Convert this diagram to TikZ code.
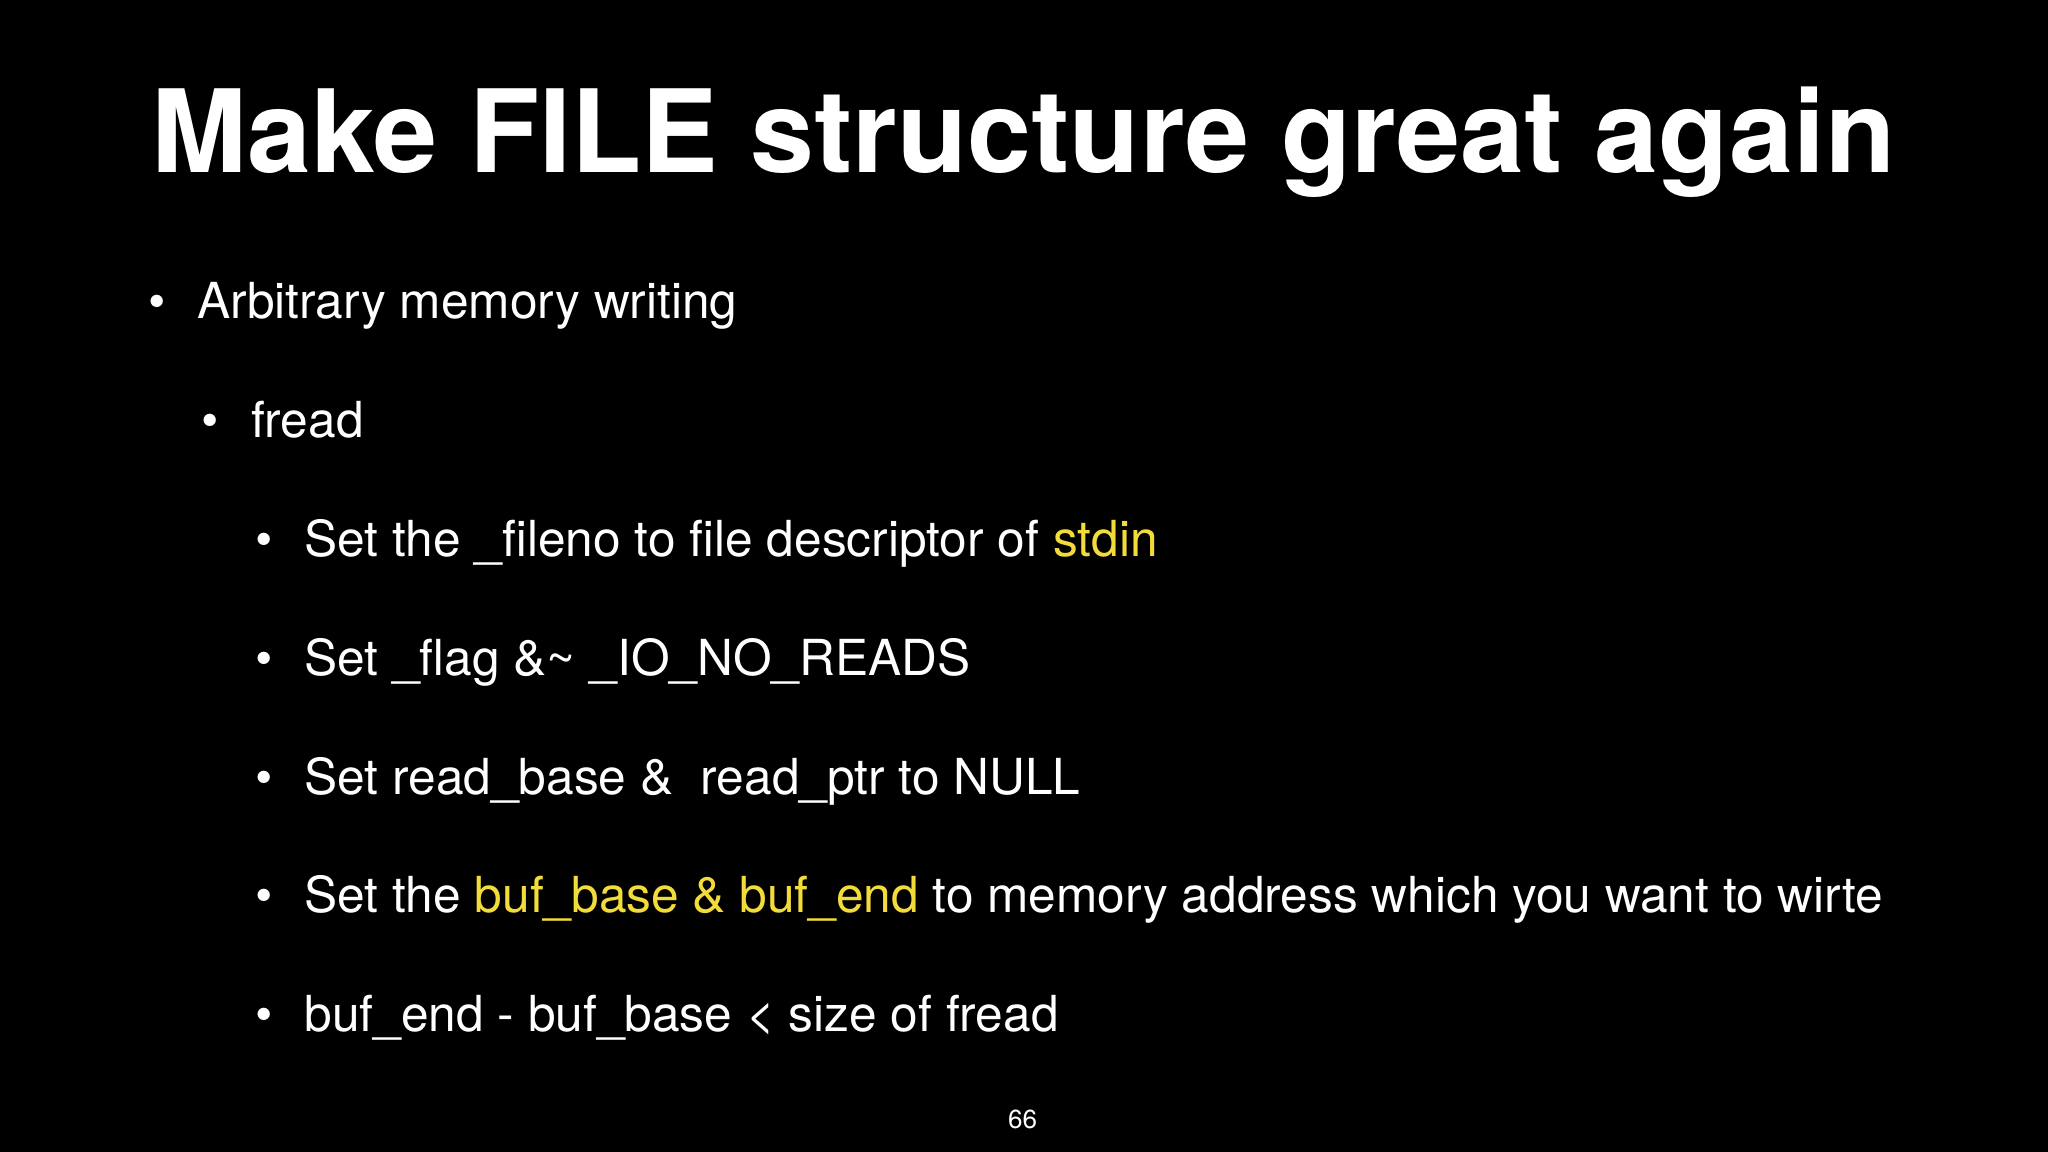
\documentclass[tikz,border=0pt]{standalone}
\usepackage{fontspec}
\setmainfont{TeX Gyre Heros}
\definecolor{hl}{HTML}{F2DC3A}
\begin{document}
\begin{tikzpicture}[x=1pt,y=-1pt,
  txt/.style={anchor=base west,inner sep=0pt,text=white,font=\fontsize{38}{38}\selectfont},
  bul/.style={anchor=base,inner sep=0pt,text=white,font=\fontsize{38}{38}\selectfont}]
\fill[black] (0,0) rectangle (1568,882);
\useasboundingbox (0,0) rectangle (1568,882);
\node[anchor=base west,inner sep=0pt,text=white,font=\fontsize{88}{88}\selectfont\bfseries] (title) at (116,132) {Make FILE structure great again};
\node[bul] (b1) at (120,244) {•};
\node[txt] (t1) at (151,244) {Arbitrary memory writing};
\node[bul] (b2) at (161,335) {•};
\node[txt] (t2) at (192,335) {fread};
\node[bul] (b3) at (202,426) {•};
\node[txt] (t3) at (233,426) {Set the \_fileno to file descriptor of \textcolor{hl}{stdin}};
\node[bul] (b4) at (202,517) {•};
\node[txt] (t4) at (233,517) {Set \_flag \&\char`\~{} \_IO\_NO\_READS};
\node[bul] (b5) at (202,608) {•};
\node[txt] (t5) at (233,608) {Set read\_base \&~ read\_ptr to NULL};
\node[bul] (b6) at (202,699) {•};
\node[txt] (t6) at (233,699) {Set the \textcolor{hl}{buf\_base \& buf\_end} to memory address which you want to wirte};
\node[bul] (b7) at (202,790) {•};
\node[txt] (t7) at (233,790) {buf\_end - buf\_base \symbol{"3C} size of fread};
\node[anchor=base,inner sep=0pt,text=white,font=\fontsize{20}{20}\selectfont] (pg) at (783,864) {66};
\end{tikzpicture}
\end{document}
